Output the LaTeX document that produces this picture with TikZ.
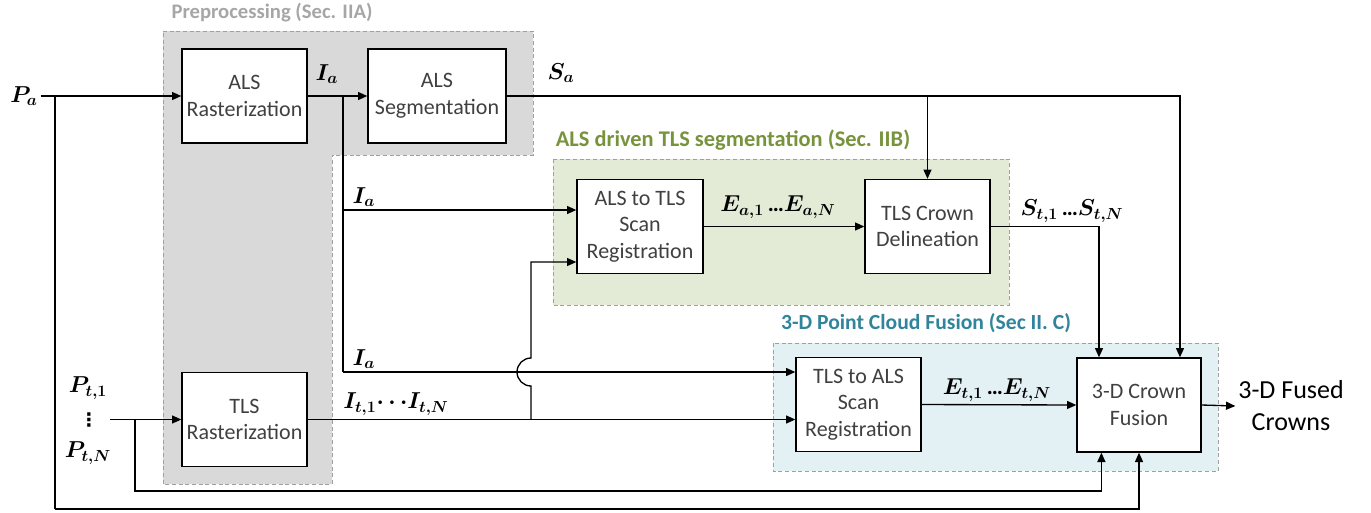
\documentclass[tikz,border=0pt]{standalone}
\usepackage{amsmath}
\usepackage{fontspec}
\setmainfont{Carlito}
\newfontfamily\dotsfont{DejaVu Sans}
\usetikzlibrary{arrows.meta,calc}
\definecolor{boxtext}{HTML}{404040}
\definecolor{prefill}{HTML}{D9D9D9}
\definecolor{pretitle}{HTML}{A6A6A6}
\definecolor{segfill}{HTML}{E3EAD5}
\definecolor{segtitle}{HTML}{77933C}
\definecolor{fusfill}{HTML}{E3F0F4}
\definecolor{fustitle}{HTML}{31849B}
\definecolor{dashgray}{HTML}{A0A0A0}
\begin{document}
\begin{tikzpicture}[x=0.75pt,y=-0.75pt]
	\tikzstyle{every node}=[inner sep=2pt]
	\tikzstyle{region}=[draw=dashgray,line width=0.75pt,dash pattern=on 3pt off 2pt]
	\tikzstyle{box}=[draw,line width=1pt,fill=white,text=boxtext,align=center,minimum height=70.5pt,minimum width=93.75pt,font=\fontsize{16.5}{20}\selectfont]
	\tikzstyle{lbl}=[inner sep=0pt,font=\fontsize{17}{20}\selectfont]
	\tikzstyle{title}=[font=\bfseries]
	\tikzstyle{wire}=[line width=1pt]
	\tikzstyle{arr}=[line width=1pt,-{Triangle[length=7pt,width=6pt]}]
	\useasboundingbox (0,0) rectangle (1371,512);
	\fill [prefill,region] (163,31) -- (533,31) -- (533,155) -- (332,155) -- (332,484) -- (163,484) -- cycle;
	\fill [segfill,region] (553,159) rectangle (1009,305);
	\fill [fusfill,region] (773,343) rectangle (1218,471);
	\node [title,text=pretitle,font=\fontsize{15.5}{18}\selectfont\bfseries] (pretit) at (272,13) {Preprocessing (Sec. IIA)};
	\node [title,text=segtitle,font=\fontsize{16.8}{18}\selectfont\bfseries] (segtit) at (733,140) {ALS driven TLS segmentation (Sec. IIB)};
	\node [title,text=fustitle,font=\fontsize{16.2}{18}\selectfont\bfseries] (fustit) at (926,323) {3-D Point Cloud Fusion (Sec II. C)};
	\node [box] (alsr) at (244.5,96) {ALS\\Rasterization};
	\node [box,minimum width=103.5pt] (alss) at (437,96) {ALS\\Segmentation};
	\node [box] (tlsr) at (244.5,419.5) {TLS\\Rasterization};
	\node [box,minimum width=94.5pt] (alsts) at (640,226.5) {ALS to TLS\\Scan\\Registration};
	\node [box] (delin) at (927.5,226.5) {TLS Crown\\Delineation};
	\node [box] (tlsas) at (858.5,404.5) {TLS to ALS\\Scan\\Registration};
	\node [box,minimum width=93pt] (fusion) at (1139,405) {3-D Crown\\Fusion};
	\node [font=\fontsize{19.5}{24}\selectfont,align=center] (out) at (1291,406) {3-D Fused\\Crowns};
	\node [lbl] (pa) at (24,96) {$\boldsymbol{P_a}$};
	\node [lbl] (pt1) at (88,388) {$\boldsymbol{P_{t,1}}$};
	\node [lbl,font=\fontsize{14}{14}\selectfont\dotsfont\bfseries] (ptdots) at (89,420) {⋮};
	\node [lbl] (ptn) at (88,453) {$\boldsymbol{P_{t,N}}$};
	\node [lbl] (ia1) at (327,74) {$\boldsymbol{I_a}$};
	\node [lbl] (sa) at (561,73) {$\boldsymbol{S_a}$};
	\node [lbl] (ia2) at (364,197) {$\boldsymbol{I_a}$};
	\node [lbl] (ia3) at (364,359) {$\boldsymbol{I_a}$};
	\node [lbl] (itn) at (396,404) {$\boldsymbol{I_{t,1}\!\cdots\! I_{t,N}}$};
	\node [lbl] (ean) at (778,207) {$\boldsymbol{E_{a,1}}$\,\textbf{…}$\boldsymbol{E_{a,N}}$};
	\node [lbl] (stn) at (1072,211) {$\boldsymbol{S_{t,1}}$\,\textbf{…}$\boldsymbol{S_{t,N}}$};
	\node [lbl] (etn) at (997,390) {$\boldsymbol{E_{t,1}}$\,\textbf{…}$\boldsymbol{E_{t,N}}$};
	\coordinate (pasplit) at (55,96);
	\coordinate (pacorner) at (55,509);
	\coordinate (ptin) at (110,419.5);
	\coordinate (ptsplit) at (135,419.5);
	\coordinate (ptcorner) at (135,491);
	\coordinate (iasplit) at (343,96);
	\coordinate (iaB) at (343,210);
	\coordinate (iaC) at (343,372);
	\coordinate (itsplit) at (531,419.5);
	\coordinate (hopbot) at (531,386);
	\coordinate (itup) at (531,262);
	\coordinate (sacorner) at (1180,96);
	\coordinate (stcorner) at (1099,226.5);
	\coordinate (fusB1) at ($(fusion.south west)!0.2!(fusion.south east)$);
	\draw [arr] ([xshift=2pt]pa.east) -- (alsr.west);
	\draw [line width=1.8pt] (pasplit) -- ++(41,0);
	\draw [wire] (pasplit) -- (pacorner);
	\draw [arr] (pacorner) -| (fusion.south);
	\draw [arr] (ptin) -- (tlsr.west);
	\draw [arr] (ptsplit) -- (ptcorner) -| (fusB1);
	\draw [arr] (alsr.east) -- (alss.west);
	\draw [wire] (iasplit) -- (iaC);
	\draw [arr] (iaB) -- (iaB -| alsts.west);
	\draw [arr] (iaC) -- (iaC -| tlsas.west);
	\draw [arr] (tlsr.east) -- (tlsr.east -| tlsas.west);
	\draw [arr] (itsplit) -- (hopbot) arc [start angle=90,end angle=270,radius=14] -- (itup) -- (itup -| alsts.west);
	\draw [arr] (alsts.east) -- (delin.west);
	\draw [arr] (alss.east) -- (sacorner) -- (sacorner |- fusion.north);
	\draw [arr] (alss.east -| delin.north) -- (delin.north);
	\draw [arr] (delin.east) -- (stcorner) -- (stcorner |- fusion.north);
	\draw [arr] (tlsas.east) -- (fusion.west);
	\draw [arr] (fusion.east) -- (out.west);
\end{tikzpicture}
\end{document}
